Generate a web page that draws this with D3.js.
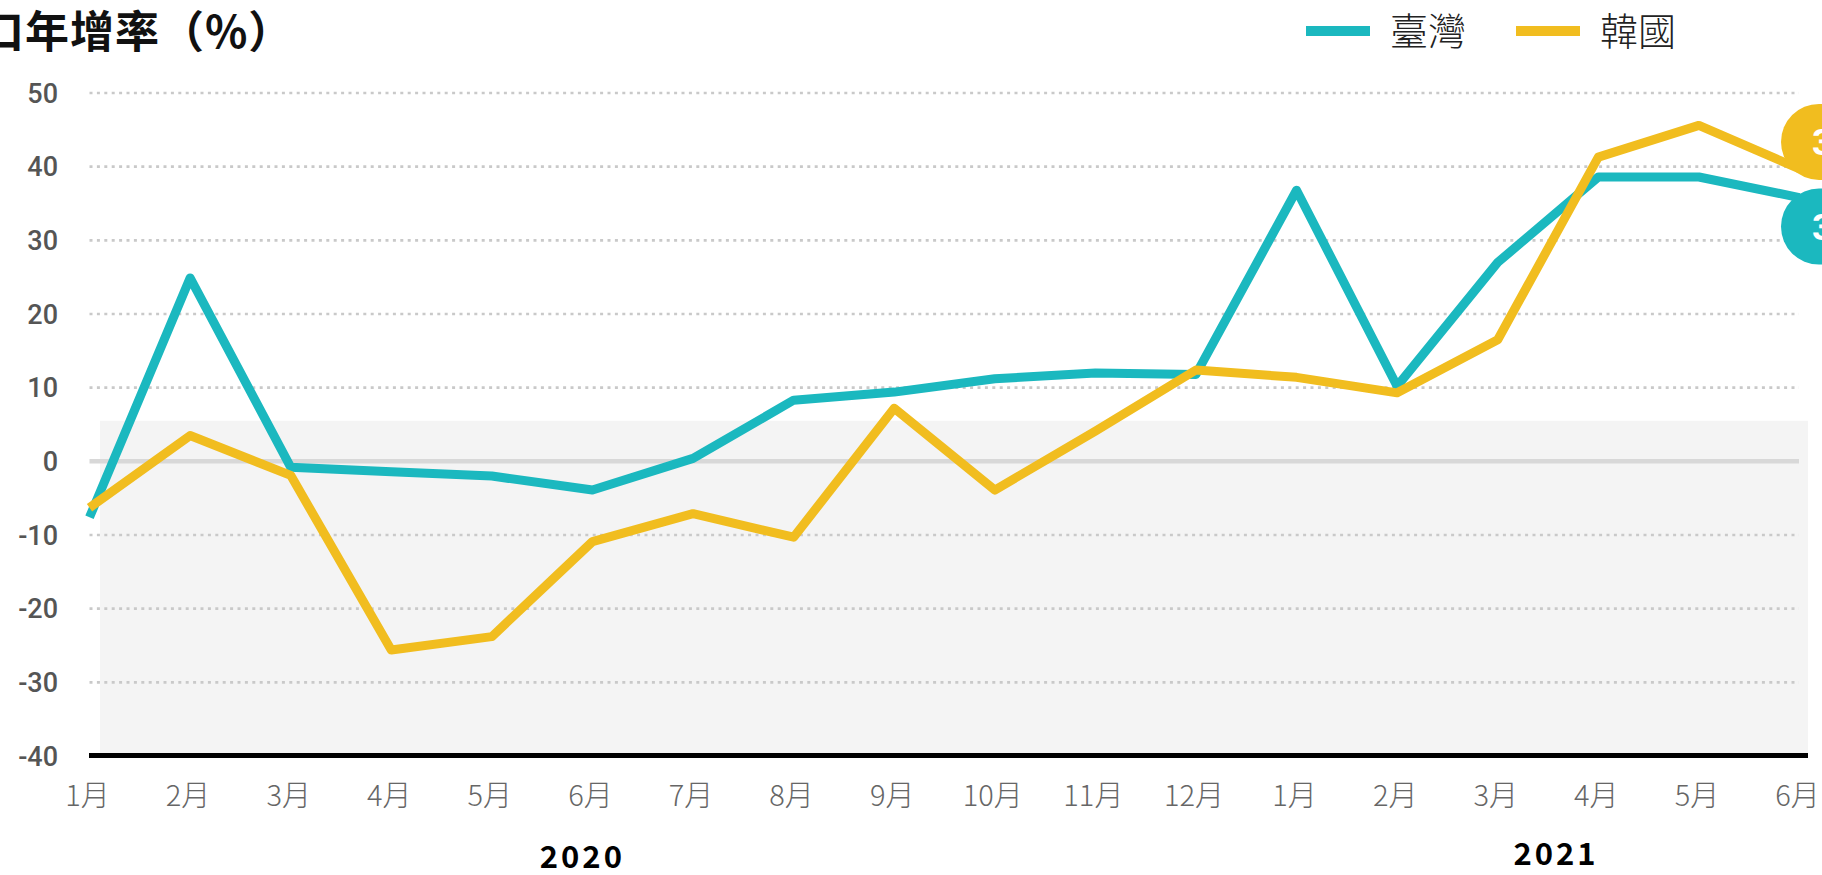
<!DOCTYPE html>
<html><head><meta charset="utf-8">
<script src="https://cdn.jsdelivr.net/npm/d3@7"></script>
<style>
html,body{margin:0;padding:0;background:#fff;overflow:hidden}
svg{display:block}
</style></head>
<body>
<svg id="chart" width="1822" height="875"></svg>
<script>
// ---- data ----
const months = ["1月","2月","3月","4月","5月","6月","7月","8月","9月","10月","11月","12月","1月","2月","3月","4月","5月","6月"];
const taiwan = [-7.6, 24.9, -0.8, -1.4, -2.0, -3.9, 0.4, 8.3, 9.4, 11.2, 12.0, 11.8, 36.8, 10.2, 27.0, 38.6, 38.6, 35.8];
const korea  = [-6.3, 3.5, -1.9, -25.6, -23.8, -10.9, -7.1, -10.3, 7.2, -3.9, 4.1, 12.4, 11.4, 9.3, 16.5, 41.3, 45.6, 39.7];
const yTicks = [50, 40, 30, 20, 10, 0, -10, -20, -30, -40];
const years = [{label:"2020", pos:4.9}, {label:"2021", pos:14.58}];
const seriesNames = ["臺灣", "韓國"];
const shadeTop = 5.5;
const title = "出口年增率（%）";

// ---- layout / style ----
const W = 1822, H = 875;
const colors = {"臺灣":"#1bb8bf", "韓國":"#f1bd1f"};
const svg = d3.select("#chart");
const x = d3.scaleLinear().domain([0, months.length - 1]).range([89.5, 1799.5]);
const y = d3.scaleLinear().domain([-40, 50]).range([756, 93]);
const gridLeft = x(0), gridRight = 1799, plotRight = 1808;

// shaded band
svg.append("rect")
  .attr("x", 100).attr("y", y(shadeTop))
  .attr("width", plotRight - 100).attr("height", y(-40) - y(shadeTop))
  .attr("fill", "#f4f4f4");

// dotted grid
svg.append("g").selectAll("line")
  .data(yTicks.filter(t => t !== 0 && t !== -40))
  .join("line")
  .attr("x1", gridLeft).attr("x2", gridRight)
  .attr("y1", d => y(d)).attr("y2", d => y(d))
  .attr("stroke", "#c9c9c9").attr("stroke-width", 2.6)
  .attr("stroke-dasharray", "3,4.4");

// zero line
svg.append("line")
  .attr("x1", gridLeft).attr("x2", gridRight)
  .attr("y1", y(0)).attr("y2", y(0))
  .attr("stroke", "#d8d8d8").attr("stroke-width", 4.5);

// y labels
svg.append("g").selectAll("text")
  .data(yTicks).join("text")
  .attr("x", 58).attr("y", d => y(d) + 9.5)
  .attr("text-anchor", "end")
  .attr("font-family", "Roboto, 'Noto Sans', sans-serif")
  .attr("font-weight", 500)
  .attr("font-size", 27)
  .attr("fill", "#555")
  .text(d => d);

// bottom axis
svg.append("line")
  .attr("x1", 89).attr("x2", plotRight)
  .attr("y1", y(-40) - 0.5).attr("y2", y(-40) - 0.5)
  .attr("stroke", "#000").attr("stroke-width", 5);

// x labels
svg.append("g").selectAll("text")
  .data(months).join("text")
  .attr("x", (d, i) => x(i) - 2).attr("y", 806)
  .attr("text-anchor", "middle")
  .attr("font-family", "'Noto Sans CJK TC', 'Noto Sans CJK JP', sans-serif")
  .attr("font-weight", 300)
  .attr("font-size", 29)
  .attr("fill", "#666")
  .text(d => d);

// year labels
svg.append("g").selectAll("text")
  .data(years).join("text")
  .attr("x", d => x(d.pos)).attr("y", (d, i) => i === 0 ? 868 : 865)
  .attr("text-anchor", "middle")
  .attr("font-family", "'Noto Sans CJK TC', Roboto, sans-serif")
  .attr("font-weight", 700)
  .attr("font-size", 31)
  .attr("letter-spacing", 3)
  .attr("fill", "#000")
  .text(d => d.label);

// lines
const line = d3.line().x((d, i) => x(i)).y(d => y(d));
const series = [{name:"臺灣", values:taiwan}, {name:"韓國", values:korea}];
svg.append("g").selectAll("path")
  .data(series).join("path")
  .attr("d", d => line(d.values))
  .attr("fill", "none")
  .attr("stroke", d => colors[d.name])
  .attr("stroke-width", 9)
  .attr("stroke-linejoin", "round");

// end labels (pills)
const labelOffset = {"臺灣": 29, "韓國": -27};
const last = months.length - 1;
const pills = svg.append("g").selectAll("g")
  .data(series).join("g")
  .attr("transform", d => `translate(1781, ${y(d.values[last]) + labelOffset[d.name]})`);
pills.append("rect")
  .attr("x", 0).attr("y", -38).attr("width", 140).attr("height", 76)
  .attr("rx", 38).attr("fill", d => colors[d.name]);
pills.append("text")
  .attr("x", 31).attr("y", 13)
  .attr("font-family", "Roboto, 'Noto Sans', sans-serif")
  .attr("font-weight", 700)
  .attr("font-size", 37)
  .attr("fill", "#fff")
  .text(d => d.values[last].toFixed(1));

// title
svg.append("text")
  .attr("x", -65).attr("y", 48)
  .attr("font-family", "'Noto Sans CJK TC', sans-serif")
  .attr("font-weight", 700)
  .attr("font-size", 44)
  .attr("letter-spacing", 1)
  .attr("fill", "#111")
  .text(title);

// legend
const legendItems = [{name:"臺灣", sx:1306, tx:1390}, {name:"韓國", sx:1516, tx:1600}];
const lg = svg.append("g").selectAll("g").data(legendItems).join("g");
lg.append("rect")
  .attr("x", d => d.sx).attr("y", 26).attr("width", 64).attr("height", 10)
  .attr("fill", d => colors[d.name]);
lg.append("text")
  .attr("x", d => d.tx).attr("y", 45)
  .attr("font-family", "'Noto Sans CJK TC', sans-serif")
  .attr("font-weight", 300)
  .attr("font-size", 38)
  .attr("fill", "#222")
  .text(d => d.name);
</script>
</body></html>
